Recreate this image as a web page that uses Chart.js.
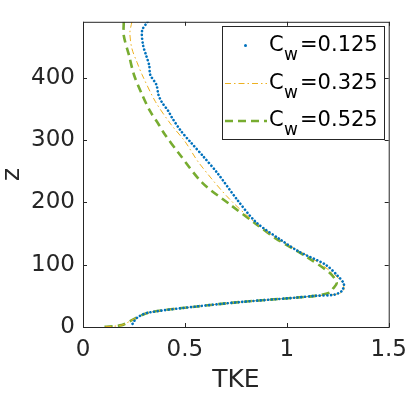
<!DOCTYPE html>
<html>
<head>
<meta charset="utf-8">
<script src="https://cdn.jsdelivr.net/npm/chart.js@4"></script>
<style>
  html, body { margin: 0; padding: 0; background: #fff; }
  #wrap { width: 416px; height: 393px; }
</style>
</head>
<body>
<div id="wrap"><canvas id="tke"></canvas></div>
<script>
// profiles: [TKE, z]
const cw125 = [
  [0.317, 490], [0.29, 476], [0.295, 452], [0.31, 436], [0.325, 420], [0.33, 405],
  [0.36, 389], [0.37, 373], [0.385, 362], [0.42, 346], [0.435, 337], [0.48, 315],
  [0.53, 296], [0.59, 274], [0.66, 247], [0.755, 205], [0.85, 168], [0.97, 140],
  [1.06, 121], [1.19, 100], [1.25, 82], [1.28, 69], [1.27, 58], [1.235, 52],
  [1.14, 50], [1.04, 47], [0.77, 40], [0.56, 33], [0.32, 23], [0.27, 16],
  [0.25, 9], [0.24, 3]
];
const cw325 = [
  [0.24, 490], [0.23, 472], [0.24, 447], [0.265, 425], [0.29, 405], [0.355, 362],
  [0.43, 326], [0.50, 298], [0.57, 263], [0.72, 205], [0.885, 157], [1.0, 133],
  [1.125, 110], [1.22, 88], [1.27, 72], [1.28, 60], [1.25, 53], [1.14, 50],
  [1.04, 47], [0.77, 40], [0.56, 33], [0.32, 23], [0.24, 11], [0.19, 3], [0.1, 0]
];
const cw525 = [
  [0.2, 490], [0.2, 468], [0.226, 436], [0.25, 405], [0.29, 373], [0.33, 346],
  [0.37, 326], [0.40, 310], [0.47, 279], [0.587, 231], [0.72, 197], [0.85, 165],
  [0.947, 142], [1.10, 112], [1.21, 87], [1.245, 71], [1.225, 61], [1.21, 55],
  [1.14, 50], [1.04, 47], [0.77, 40], [0.56, 33], [0.32, 23], [0.24, 11],
  [0.19, 3], [0.1, 0]
];
const seriesNames = ["0.125", "0.325", "0.525"];
const xTicks = [0, 0.5, 1, 1.5];
const yTicks = [0, 100, 200, 300, 400];

const ink = "#262626";
const font = "DejaVu Sans";
const toXY = (arr) => arr.map(([x, y]) => ({ x: x, y: y }));

// box around the axes + inward ticks on all four sides
const boxTicks = {
  id: "boxTicks",
  afterDraw(chart) {
    const { ctx, chartArea: a, scales } = chart;
    ctx.save();
    ctx.strokeStyle = ink;
    ctx.lineWidth = 1;
    ctx.strokeRect(a.left + 0.5, a.top + 0.5, a.right - a.left, a.bottom - a.top);
    ctx.beginPath();
    xTicks.forEach((v) => {
      const px = Math.round(scales.x.getPixelForValue(v)) + 0.5;
      ctx.moveTo(px, a.bottom); ctx.lineTo(px, a.bottom - 4);
      ctx.moveTo(px, a.top); ctx.lineTo(px, a.top + 4);
    });
    yTicks.forEach((v) => {
      const py = Math.round(scales.y.getPixelForValue(v)) + 0.5;
      ctx.moveTo(a.left, py); ctx.lineTo(a.left + 4, py);
      ctx.moveTo(a.right, py); ctx.lineTo(a.right - 4, py);
    });
    ctx.stroke();
    ctx.restore();
  },
};

// MATLAB-like legend with subscript w
const cwLegend = {
  id: "cwLegend",
  afterDraw(chart) {
    const ctx = chart.ctx;
    const bx = 222, by = 26, bw = 162, bh = 113;
    ctx.save();
    ctx.fillStyle = "#fff";
    ctx.fillRect(bx, by, bw, bh);
    ctx.strokeStyle = ink;
    ctx.lineWidth = 1;
    ctx.strokeRect(bx + 0.5, by + 0.5, bw, bh);
    chart.data.datasets.forEach((ds, i) => {
      const base = 51 + i * 37.5;
      const mid = base - 5;
      ctx.save();
      if (i === 0) {
        ctx.fillStyle = ds.borderColor;
        ctx.beginPath();
        ctx.arc(245.5, mid - 0.5, 1.5, 0, Math.PI * 2);
        ctx.fill();
      } else {
        ctx.strokeStyle = ds.borderColor;
        ctx.lineWidth = ds.borderWidth;
        ctx.setLineDash(ds.borderDash);
        ctx.beginPath();
        ctx.moveTo(225, mid);
        ctx.lineTo(267, mid);
        ctx.stroke();
      }
      ctx.restore();
      ctx.fillStyle = "#000";
      ctx.textBaseline = "alphabetic";
      ctx.textAlign = "left";
      ctx.font = "21px '" + font + "'";
      ctx.fillText("C", 269, base);
      ctx.font = "17px '" + font + "'";
      ctx.fillText("w", 284, base + 9);
      ctx.font = "21px '" + font + "'";
      ctx.fillText("=" + seriesNames[i], 300, base);
    });
    ctx.restore();
  },
};

const chart = new Chart(document.getElementById("tke"), {
  type: "scatter",
  data: {
    datasets: [
      {
        label: "Cw=" + seriesNames[0],
        data: toXY(cw125),
        showLine: true,
        borderColor: "#0072BD",
        borderWidth: 2.6,
        borderDash: [0.1, 3.6],
        borderCapStyle: "round",
        pointRadius: 0,
        tension: 0.3,
      },
      {
        label: "Cw=" + seriesNames[1],
        data: toXY(cw325),
        showLine: true,
        borderColor: "#EDB120",
        borderWidth: 1,
        borderDash: [6, 3, 1.5, 3],
        pointRadius: 0,
        tension: 0.3,
      },
      {
        label: "Cw=" + seriesNames[2],
        data: toXY(cw525),
        showLine: true,
        borderColor: "#77AC30",
        borderWidth: 2.6,
        borderDash: [8, 5],
        pointRadius: 0,
        tension: 0.3,
      },
    ],
  },
  options: {
    responsive: true,
    maintainAspectRatio: false,
    animation: false,
    layout: { padding: { top: 16, right: 16, left: 0, bottom: 0 } },
    plugins: { legend: { display: false }, tooltip: { enabled: false } },
    scales: {
      x: {
        min: 0,
        max: 1.5,
        afterBuildTicks: (s) => { s.ticks = xTicks.map((v) => ({ value: v })); },
        afterFit: (s) => { s.height = 66; },
        grid: { display: false, drawTicks: false },
        border: { display: false },
        ticks: {
          color: ink,
          padding: 9,
          maxRotation: 0,
          font: { family: font, size: 23 },
          callback: (v) => String(v),
        },
        title: {
          display: true,
          text: "TKE",
          color: ink,
          padding: { top: 0, bottom: 0 },
          font: { family: font, size: 25, lineHeight: 1 },
        },
      },
      y: {
        min: 0,
        max: 490,
        afterBuildTicks: (s) => { s.ticks = yTicks.map((v) => ({ value: v })); },
        afterFit: (s) => { s.width = 83; },
        grid: { display: false, drawTicks: false },
        border: { display: false },
        ticks: {
          color: ink,
          padding: 8,
          font: { family: font, size: 23 },
        },
        title: {
          display: true,
          text: "z",
          color: ink,
          padding: { top: 0, bottom: 0 },
          font: { family: font, size: 25, lineHeight: 1 },
        },
      },
    },
  },
  plugins: [boxTicks, cwLegend],
});
</script>
</body>
</html>
